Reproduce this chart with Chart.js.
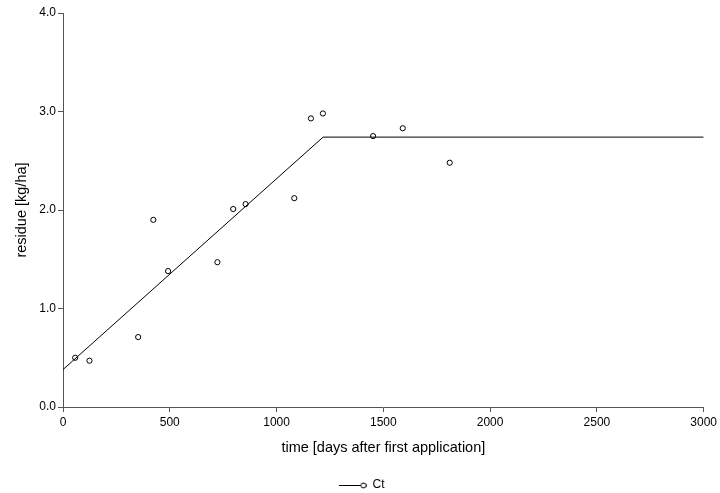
<!DOCTYPE html>
<html>
<head>
<meta charset="utf-8">
<script src="https://cdn.jsdelivr.net/npm/chart.js@4/dist/chart.umd.min.js"></script>
<style>
  html, body { margin: 0; padding: 0; background: #fff; }
  #wrap { width: 720px; height: 493px; position: relative; }
</style>
</head>
<body>
<div id="wrap"><canvas id="c" width="720" height="493"></canvas></div>
<script>
// Observed residues (days after first application, kg/ha)
const obsDays    = [57, 124, 352, 423, 492, 723, 797, 855, 1083, 1161, 1217, 1452, 1591, 1811];
const obsResidue = [0.50, 0.47, 0.71, 1.90, 1.38, 1.47, 2.01, 2.06, 2.12, 2.93, 2.98, 2.75, 2.83, 2.48];

// Fitted broken-line model: linear rise, then plateau
const fitDays    = [0, 1218, 3000];
const fitResidue = [0.38, 2.74, 2.74];

const seriesName = 'Ct';
const xTitle = 'time [days after first application]';
const yTitle = 'residue [kg/ha]';

const FONT = '"Liberation Sans", Arial, sans-serif';
const AXIS = '#555';

// legend icon: short line followed by an open circle
function legendIcon() {
  const cv = document.createElement('canvas');
  cv.width = 28; cv.height = 10;
  const g = cv.getContext('2d');
  g.strokeStyle = '#000';
  g.lineWidth = 1;
  g.beginPath(); g.moveTo(0, 5.5); g.lineTo(22, 5.5); g.stroke();
  g.beginPath(); g.arc(25, 5.5, 2.5, 0, Math.PI * 2);
  g.fillStyle = '#fff'; g.fill(); g.stroke();
  return cv;
}

// push the legend a little closer to the bottom edge
const legendNudge = {
  id: 'legendNudge',
  afterLayout(chart) {
    const lg = chart.legend;
    if (lg) { lg.top += 8; lg.bottom += 8; }
  }
};

new Chart(document.getElementById('c'), {
  type: 'scatter',
  data: {
    datasets: [
      {
        label: seriesName,
        type: 'line',
        data: fitDays.map((d, i) => ({ x: d, y: fitResidue[i] })),
        borderColor: '#000',
        borderWidth: 1,
        pointRadius: 0,
        fill: false,
        tension: 0
      },
      {
        label: seriesName + ' obs',
        data: obsDays.map((d, i) => ({ x: d, y: obsResidue[i] })),
        showLine: false,
        pointRadius: 2.6,
        pointBorderWidth: 1,
        pointBorderColor: '#000',
        pointBackgroundColor: '#fff'
      }
    ]
  },
  plugins: [legendNudge],
  options: {
    responsive: false,
    animation: false,
    layout: { padding: { left: 13, right: 10, top: 13, bottom: 0 } },
    plugins: {
      tooltip: { enabled: false },
      legend: {
        position: 'bottom',
        labels: {
          usePointStyle: true,
          pointStyleWidth: 28,
          padding: 3,
          font: { family: FONT, size: 12 },
          color: '#000',
          generateLabels: () => [{
            text: seriesName,
            pointStyle: legendIcon(),
            fillStyle: '#fff',
            strokeStyle: '#000',
            lineWidth: 0,
            datasetIndex: 0
          }]
        }
      }
    },
    scales: {
      x: {
        type: 'linear',
        min: 0, max: 3000,
        ticks: { stepSize: 500, color: '#000', font: { family: FONT, size: 12 }, padding: 3, maxRotation: 0,
                 callback: v => String(v) },
        grid: { drawOnChartArea: false, drawTicks: true, tickLength: 5, color: AXIS },
        border: { display: true, color: AXIS, width: 1 },
        title: { display: true, text: xTitle, color: '#000', font: { family: FONT, size: 14.5 }, padding: { top: 6, bottom: 11 } },
        afterFit: s => { s.height = 61; }
      },
      y: {
        type: 'linear',
        min: 0, max: 4,
        ticks: { stepSize: 1, color: '#000', font: { family: FONT, size: 12 }, padding: 2,
                 callback: v => Number(v).toFixed(1) },
        grid: { drawOnChartArea: false, drawTicks: true, tickLength: 5, color: AXIS },
        border: { display: true, color: AXIS, width: 1 },
        title: { display: true, text: yTitle, color: '#000', font: { family: FONT, size: 14.5 }, padding: { top: 0, bottom: 6 } },
        afterFit: s => { s.width = 50; }
      }
    }
  }
});
</script>
</body>
</html>
